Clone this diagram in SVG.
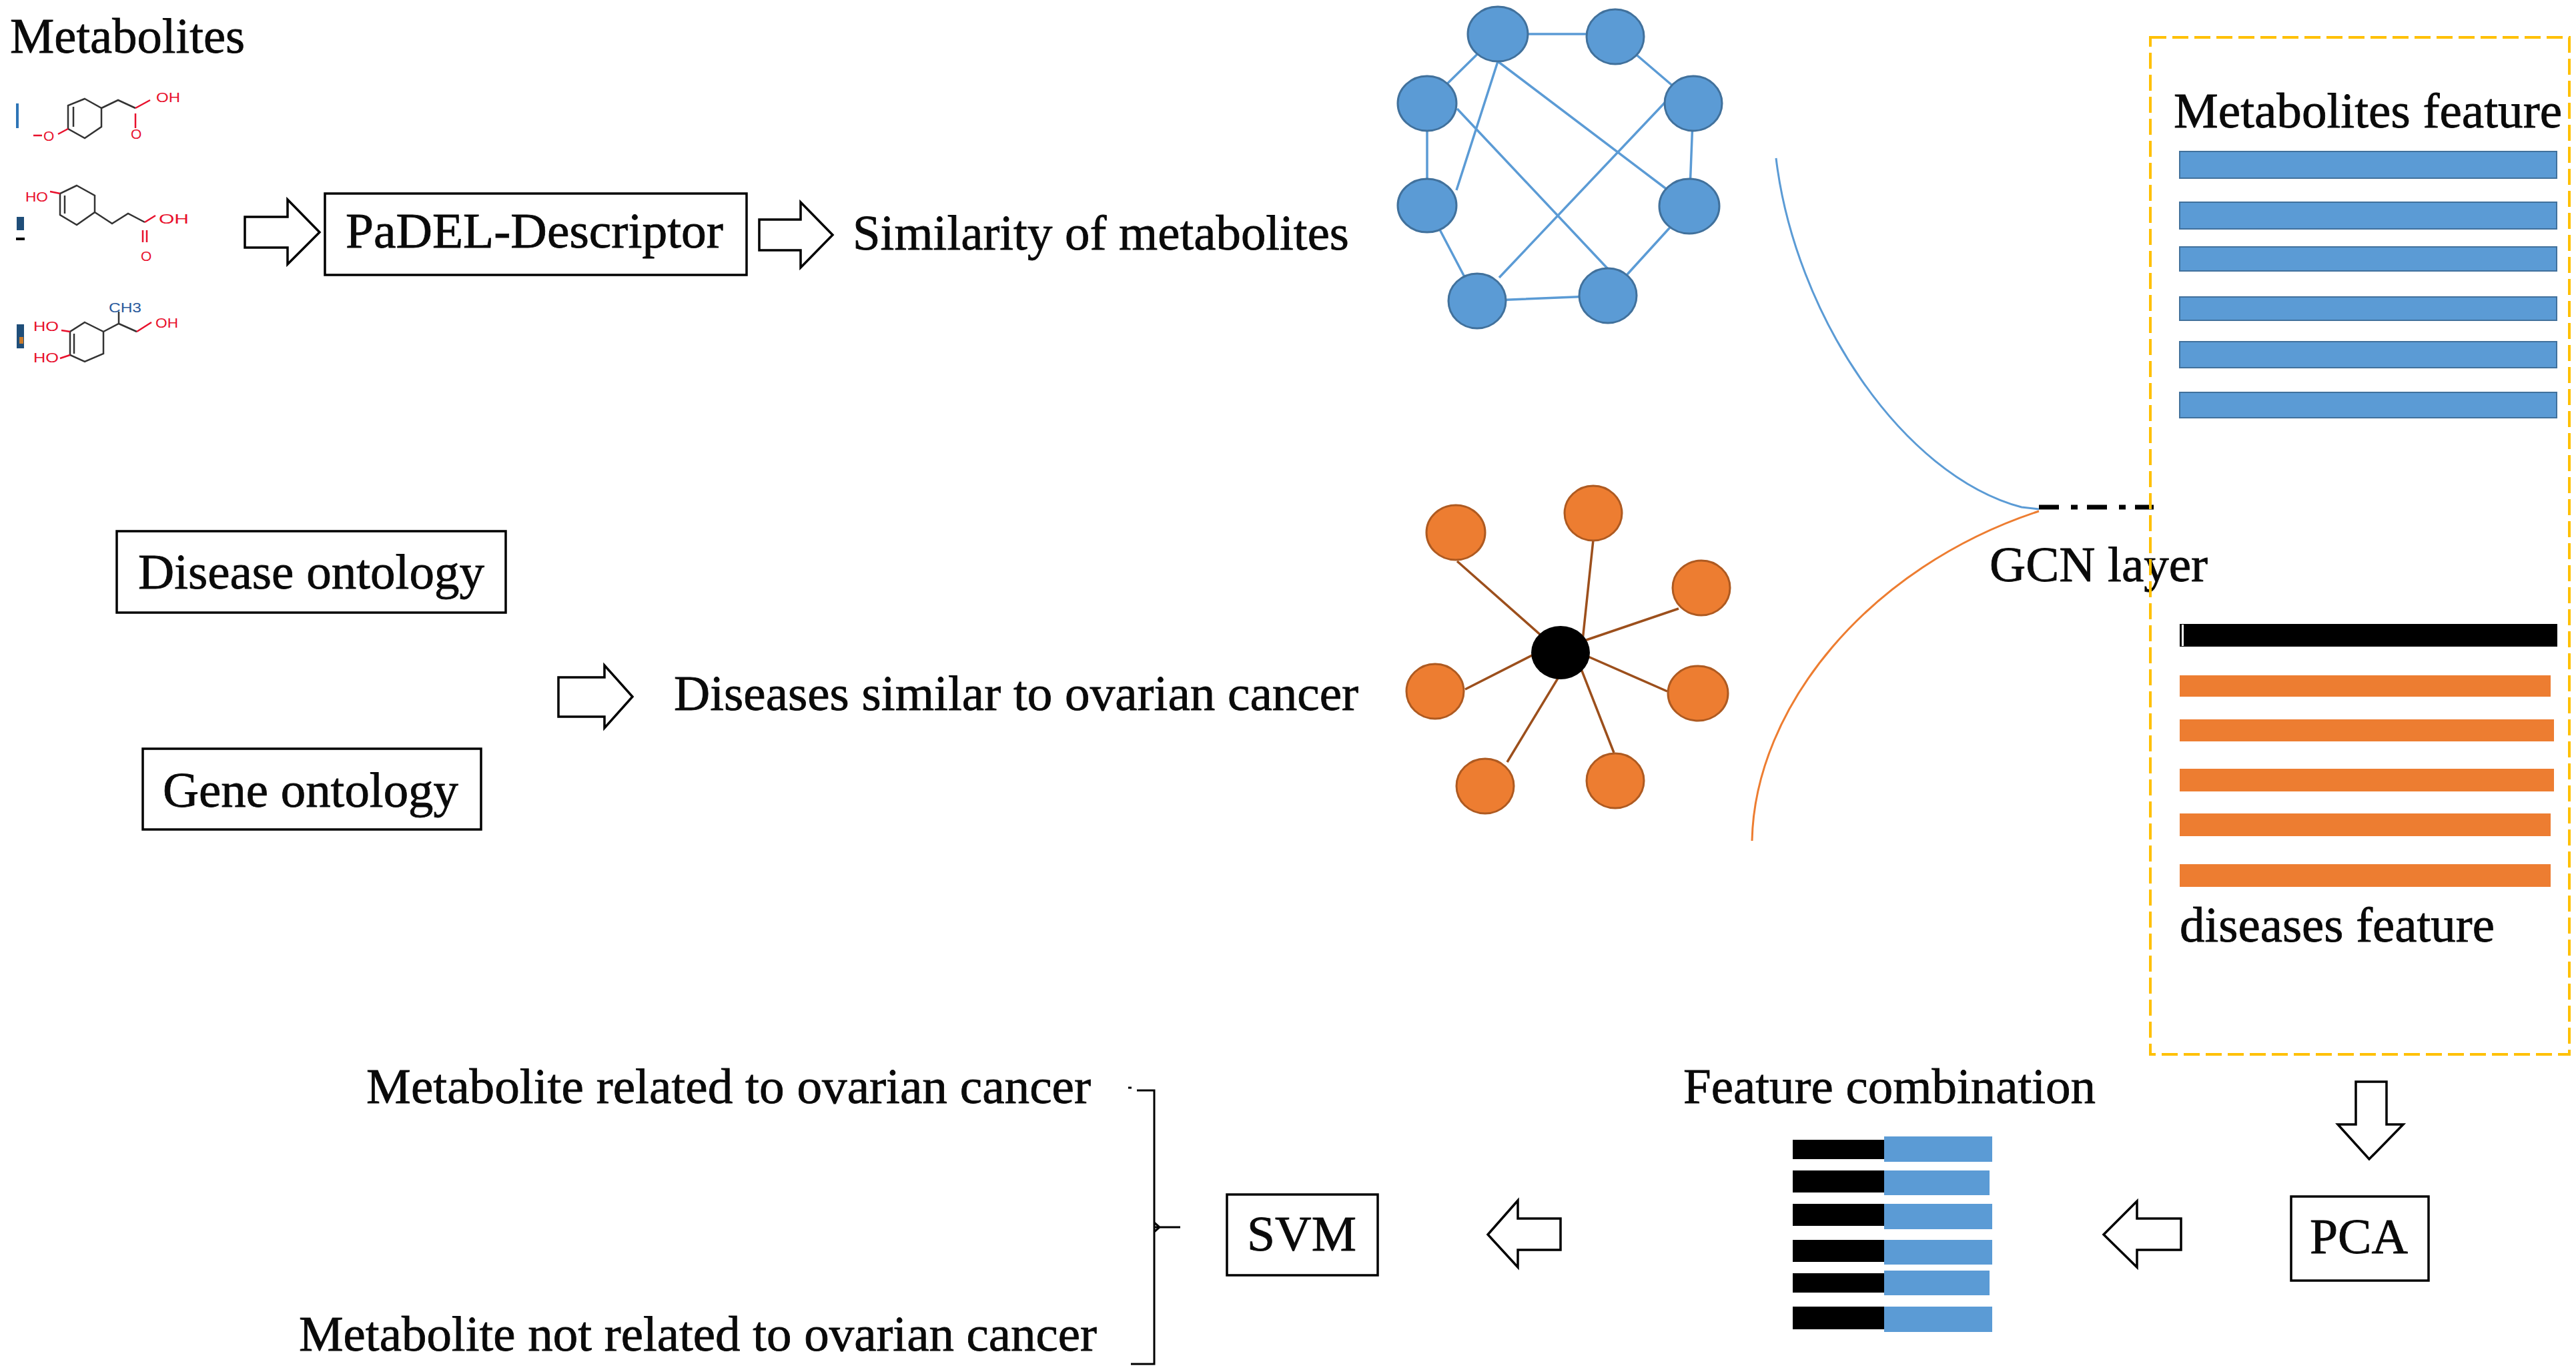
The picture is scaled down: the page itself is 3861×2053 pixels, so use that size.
<svg xmlns="http://www.w3.org/2000/svg" width="3861" height="2053" viewBox="0 0 3861 2053">
<style>
text{font-family:"Liberation Serif","Times New Roman",serif;fill:#0a0a0a;font-size:74px;stroke:#0a0a0a;stroke-width:.8}
.box{fill:#fff;stroke:#000;stroke-width:3.5}
.arrow{fill:#fff;stroke:#000;stroke-width:3.5;stroke-linejoin:miter}
.bn{fill:#5b9bd5;stroke:#41719c;stroke-width:3}
.on{fill:#ed7d31;stroke:#ae5a21;stroke-width:3}
.be{stroke:#5b9bd5;stroke-width:3.5;fill:none}
.oe{stroke:#9c4f1c;stroke-width:3.5;fill:none}
.bb{fill:#5b9bd5;stroke:#41719c;stroke-width:2}
.ob{fill:#ed7d31}
.k{fill:#000}
.mol{stroke:#333;stroke-width:2.5;fill:none}
.molr{stroke:#e8102c;stroke-width:2.5;fill:none}
text.mt{font-family:"Liberation Sans",Arial,sans-serif;font-size:21px;fill:#e8102c;stroke:none}
</style>
<rect width="3861" height="2053" fill="#fff"/>
<g id="connectors">
<path class="be" d="M2245 51H2421M2421 55L2538 155M2245 51L2139 155M2139 155V308M2538 155L2532 309M2139 308L2214 451M2214 451L2410 443M2410 443L2532 309M2245 92L2183 285M2245 92L2500 285M2184 163L2410 403M2496 153L2247 416"/>
<path class="oe" d="M2184 841L2339 978M2388 809L2372 960M2360 965L2516 912M2360 975L2499 1036M2345 1000L2259 1142M2365 990L2419 1128M2196 1033L2320 970"/>
<path d="M2662 237C2690 470 2850 712 3030 760L3056 763" fill="none" stroke="#5b9bd5" stroke-width="3"/>
<path d="M2626 1260C2630 1060 2800 850 3056 766" fill="none" stroke="#ed7d31" stroke-width="3"/>
<path d="M3056 760H3228" fill="none" stroke="#000" stroke-width="7" stroke-dasharray="30 18 10 14"/>
<path d="M1691 1630h5M1704 1634H1730V2044H1695M1730 1839H1769M1730 1832l8 7l-8 7" fill="none" stroke="#000" stroke-width="3"/>
</g>
<g id="metabolites-title"><text x="15" y="79" textLength="352" lengthAdjust="spacingAndGlyphs">Metabolites</text></g>
<g id="molecule-1">
<rect x="24" y="155" width="4" height="37" fill="#2e75b6"/>
<path class="mol" d="M127 148L152 162V190L127 207L102 193V158ZM110 160V190M152 162L177 150L203 162"/>
<path class="molr" d="M203 162L225 150M203 170V192M102 193L87 201M50 203H63"/>
<text class="mt" x="234" y="153" textLength="36" lengthAdjust="spacingAndGlyphs">OH</text>
<text class="mt" x="196" y="208">O</text>
<text class="mt" x="65" y="211">O</text>
</g>
<g id="molecule-2">
<rect x="25" y="325" width="11" height="20" fill="#1f4e79"/><rect x="24" y="356" width="13" height="4" fill="#000"/>
<path class="mol" d="M115 278L142 293V318L115 337L90 322V290ZM97 293V320M142 318L168 335L192 320L217 333"/>
<path class="molr" d="M90 290L75 287M217 333L233 323M214 345V363M220 345V363"/>
<text class="mt" x="38" y="302" textLength="34" lengthAdjust="spacingAndGlyphs">HO</text>
<text class="mt" x="238" y="335" textLength="45" lengthAdjust="spacingAndGlyphs">OH</text>
<text class="mt" x="211" y="391">O</text>
</g>
<g id="molecule-3">
<rect x="25" y="486" width="11" height="36" fill="#1f4e79"/><rect x="29" y="505" width="6" height="10" fill="#c97a2b"/>
<path class="mol" d="M127 483L155 497V530L127 542L105 532V497ZM111 500V530M155 497L178 485L205 497M178 485V467"/>
<path class="molr" d="M105 497L92 495M105 532L90 537M205 497L227 483"/>
<text class="mt" x="50" y="496" textLength="38" lengthAdjust="spacingAndGlyphs">HO</text>
<text class="mt" x="50" y="543" textLength="38" lengthAdjust="spacingAndGlyphs">HO</text>
<text class="mt" x="233" y="491" textLength="34" lengthAdjust="spacingAndGlyphs">OH</text>
<text class="mt" x="163" y="468" textLength="49" lengthAdjust="spacingAndGlyphs" style="fill:#2a5a9c">CH3</text>
</g>
<g id="arrow-1"><path class="arrow" d="M367 325H431V299L479 348L431 396V371H367Z"/></g>
<g id="padel"><rect class="box" x="487" y="290" width="632" height="122"/><text x="518" y="371" textLength="566" lengthAdjust="spacingAndGlyphs">PaDEL-Descriptor</text></g>
<g id="arrow-2"><path class="arrow" d="M1138 329H1200V303L1248 352L1200 401V375H1138Z"/></g>
<g id="similarity"><text x="1278" y="374" textLength="744" lengthAdjust="spacingAndGlyphs">Similarity of metabolites</text></g>
<g id="disease-ontology"><rect class="box" x="175" y="796" width="583" height="122"/><text x="207" y="882" textLength="519" lengthAdjust="spacingAndGlyphs">Disease ontology</text></g>
<g id="gene-ontology"><rect class="box" x="214" y="1122" width="507" height="121"/><text x="244" y="1209" textLength="443" lengthAdjust="spacingAndGlyphs">Gene ontology</text></g>
<g id="arrow-3"><path class="arrow" d="M837 1015H906V997L948 1044L906 1091V1074H837Z"/></g>
<g id="diseases-similar"><text x="1010" y="1064" textLength="1026" lengthAdjust="spacingAndGlyphs">Diseases similar to ovarian cancer</text></g>
<g id="metabolite-graph">
<ellipse class="bn" cx="2245" cy="51" rx="45" ry="41"/><ellipse class="bn" cx="2421" cy="55" rx="43" ry="41"/>
<ellipse class="bn" cx="2139" cy="155" rx="44" ry="41"/><ellipse class="bn" cx="2538" cy="155" rx="43" ry="41"/>
<ellipse class="bn" cx="2139" cy="308" rx="44" ry="40"/><ellipse class="bn" cx="2532" cy="309" rx="45" ry="41"/>
<ellipse class="bn" cx="2214" cy="451" rx="43" ry="41"/><ellipse class="bn" cx="2410" cy="443" rx="43" ry="41"/>
</g>
<g id="disease-graph">
<ellipse class="on" cx="2182" cy="798" rx="44" ry="41"/><ellipse class="on" cx="2388" cy="769" rx="43" ry="41"/>
<ellipse class="on" cx="2550" cy="881" rx="43" ry="41"/><ellipse class="on" cx="2151" cy="1036" rx="43" ry="41"/>
<ellipse class="on" cx="2545" cy="1039" rx="45" ry="41"/><ellipse class="on" cx="2226" cy="1178" rx="43" ry="41"/>
<ellipse class="on" cx="2421" cy="1170" rx="43" ry="41"/>
<ellipse cx="2339" cy="978" rx="44" ry="40" fill="#000"/>
</g>
<g id="gcn-layer"><text x="2982" y="871" textLength="327" lengthAdjust="spacingAndGlyphs">GCN layer</text></g>
<g id="feature-panel">
<rect x="3223" y="56" width="628" height="1524" fill="none" stroke="#ffc000" stroke-width="4" stroke-dasharray="24 9"/>
<text x="3258" y="191" textLength="582" lengthAdjust="spacingAndGlyphs">Metabolites feature</text>
<rect class="bb" x="3267" y="227" width="565" height="40"/><rect class="bb" x="3267" y="303" width="565" height="40"/>
<rect class="bb" x="3267" y="370" width="565" height="36"/><rect class="bb" x="3267" y="445" width="565" height="35"/>
<rect class="bb" x="3267" y="512" width="565" height="39"/><rect class="bb" x="3267" y="588" width="565" height="38"/>
<rect class="k" x="3267" y="935" width="566" height="34"/><rect x="3270" y="936" width="3" height="32" fill="#fff"/>
<rect class="ob" x="3267" y="1012" width="556" height="32"/><rect class="ob" x="3267" y="1078" width="561" height="33"/>
<rect class="ob" x="3267" y="1152" width="561" height="34"/><rect class="ob" x="3267" y="1219" width="556" height="34"/>
<rect class="ob" x="3267" y="1295" width="556" height="34"/>
<text x="3267" y="1411" textLength="472" lengthAdjust="spacingAndGlyphs">diseases feature</text>
</g>
<g id="arrow-4"><path class="arrow" d="M3531 1621H3577V1685H3602L3551 1737L3504 1685H3531Z"/></g>
<g id="pca"><rect class="box" x="3434" y="1793" width="206" height="126"/><text x="3462" y="1878" textLength="147" lengthAdjust="spacingAndGlyphs">PCA</text></g>
<g id="arrow-5"><path class="arrow" d="M3269 1826H3203V1800L3153 1850L3203 1899V1873H3269Z"/></g>
<g id="feature-combination">
<text x="2523" y="1653" textLength="618" lengthAdjust="spacingAndGlyphs">Feature combination</text>
<rect class="k" x="2687" y="1708" width="137" height="29"/><rect class="k" x="2687" y="1754" width="137" height="33"/>
<rect class="k" x="2687" y="1804" width="137" height="33"/><rect class="k" x="2687" y="1858" width="137" height="33"/>
<rect class="k" x="2687" y="1908" width="137" height="29"/><rect class="k" x="2687" y="1958" width="137" height="34"/>
<g fill="#5b9bd5"><rect x="2824" y="1703" width="162" height="38"/><rect x="2824" y="1754" width="158" height="37"/>
<rect x="2824" y="1804" width="162" height="38"/><rect x="2824" y="1858" width="162" height="37"/>
<rect x="2824" y="1904" width="158" height="37"/><rect x="2824" y="1958" width="162" height="38"/></g>
</g>
<g id="arrow-6"><path class="arrow" d="M2339 1826H2275V1799L2230 1850L2275 1899V1873H2339Z"/></g>
<g id="svm"><rect class="box" x="1839" y="1790" width="226" height="121"/><text x="1869" y="1874" textLength="164" lengthAdjust="spacingAndGlyphs">SVM</text></g>
<g id="result-related"><text x="549" y="1653" textLength="1086" lengthAdjust="spacingAndGlyphs">Metabolite related to ovarian cancer</text></g>
<g id="result-not-related"><text x="448" y="2024" textLength="1196" lengthAdjust="spacingAndGlyphs">Metabolite not related to ovarian cancer</text></g>
</svg>
